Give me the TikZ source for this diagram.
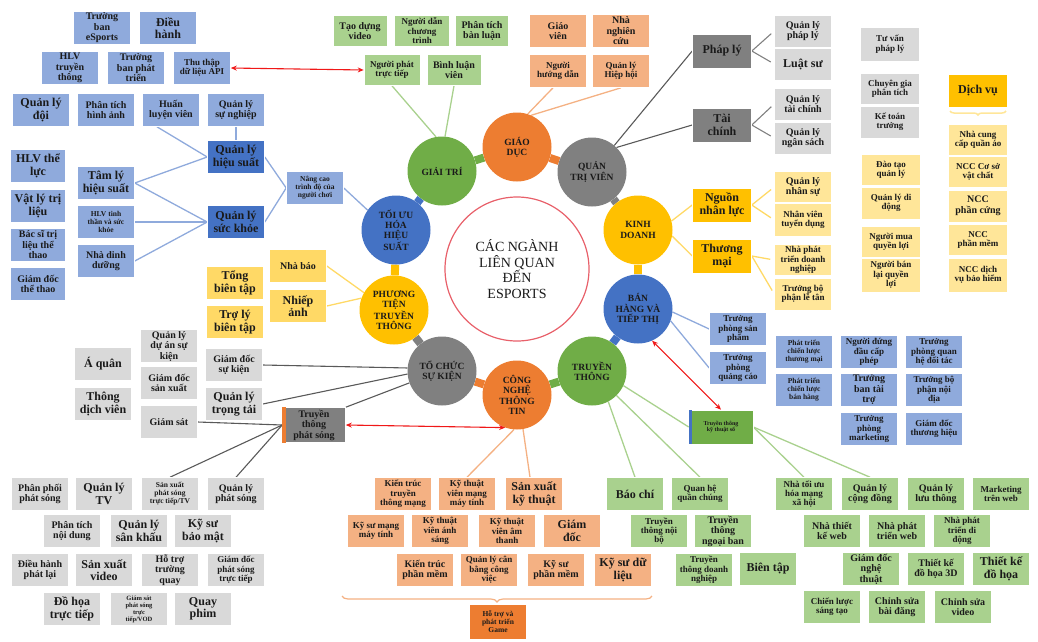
\documentclass[tikz,border=0pt]{standalone}
\usepackage{fontspec}
\setmainfont{Liberation Serif}
\usetikzlibrary{arrows.meta,decorations.pathreplacing,backgrounds}

\definecolor{cBlueL}{HTML}{8FAADC}
\definecolor{cBlue}{HTML}{4472C4}
\definecolor{cGreenL}{HTML}{A9D18E}
\definecolor{cGreen}{HTML}{70AD47}
\definecolor{cOrangeL}{HTML}{F4B183}
\definecolor{cOrange}{HTML}{ED7D31}
\definecolor{cGrayL}{HTML}{D9D9D9}
\definecolor{cGray}{HTML}{808080}
\definecolor{cGrayLine}{HTML}{595959}
\definecolor{cYellowL}{HTML}{FFE699}
\definecolor{cYellowM}{HTML}{FFD966}
\definecolor{cYellow}{HTML}{FFC000}
\definecolor{cPink}{HTML}{E8606A}
\definecolor{cArrow}{HTML}{F01818}
\definecolor{cInk}{HTML}{1A1A1A}

\begin{document}
\begin{tikzpicture}[x=1pt,y=-1pt,
  bx/.style={rectangle, minimum width=57pt, minimum height=33pt, inner sep=0.5pt,
    align=center, text=cInk, draw=white, line width=0.6pt},
  fA/.style={font=\bfseries\fontsize{12}{12.5}\selectfont},
  fB/.style={font=\bfseries\fontsize{10}{10.5}\selectfont},
  fC/.style={font=\bfseries\fontsize{9}{9.4}\selectfont},
  fD/.style={font=\bfseries\fontsize{7.5}{8}\selectfont},
  fE/.style={font=\bfseries\fontsize{6.5}{7}\selectfont},
  bxLB/.style={bx, fill=cBlueL},
  bxDB/.style={bx, fill=cBlue},
  bxLG/.style={bx, fill=cGreenL},
  bxDG/.style={bx, fill=cGreen},
  bxLO/.style={bx, fill=cOrangeL},
  bxDO/.style={bx, fill=cOrange},
  bxLK/.style={bx, fill=cGrayL},
  bxDK/.style={bx, fill=cGray},
  bxLY/.style={bx, fill=cYellowL},
  bxMY/.style={bx, fill=cYellowM},
  bxDY/.style={bx, fill=cYellow},
  ring/.style={circle, minimum size=69pt, inner sep=0pt, align=center, text=cInk,
    font=\bfseries\fontsize{9.5}{10.3}\selectfont},
  lnB/.style={draw=cBlueL, line width=1.3pt},
  lnG/.style={draw=cGreenL, line width=1.3pt},
  lnO/.style={draw=cOrangeL, line width=1.3pt},
  lnY/.style={draw=cYellowM, line width=1.3pt},
  lnK/.style={draw=cGrayLine, line width=1.1pt},
  lnKL/.style={draw=cGray, line width=1.1pt},
  biarrow/.style={draw=cArrow, line width=1.1pt, {Stealth[length=6pt,width=5pt]}-{Stealth[length=6pt,width=5pt]}},
  bar/.style={line width=8pt}
]
\useasboundingbox (0,0) rectangle (1038,641);

% ---------- central hub ----------
\node[circle, minimum size=144pt, draw=cPink, line width=1.2pt, fill=white, align=center,
  text=cInk, font=\fontsize{14}{15.5}\selectfont] (hub) at (517,269)
  {CÁC NGÀNH\\LIÊN QUAN\\ĐẾN\\ESPORTS};

% ---------- ring of sectors ----------
\node[ring, fill=cGreen]  (gt)   at (442,171) {GIẢI TRÍ};
\node[ring, fill=cOrange] (gd)   at (517,147) {GIÁO\\DỤC};
\node[ring, fill=cGray]   (qt)   at (592,172) {QUẢN\\TRỊ VIÊN};
\node[ring, fill=cYellow] (kd)   at (638,230) {KINH\\DOANH};
\node[ring, fill=cBlue]   (bh)   at (638,309) {BÁN\\HÀNG VÀ\\TIẾP THỊ};
\node[ring, fill=cGreen]  (tt)   at (592,371) {TRUYỀN\\THÔNG};
\node[ring, fill=cOrange] (cntt) at (517,395) {CÔNG\\NGHỆ\\THÔNG\\TIN};
\node[ring, fill=cGray]   (tcsk) at (442,371) {TỔ CHỨC\\SỰ KIỆN};
\node[ring, fill=cYellow] (pt)   at (394,310) {PHƯƠNG\\TIỆN\\TRUYỀN\\THÔNG};
\node[ring, fill=cBlue]   (tu)   at (396,230) {TỐI ƯU\\HÓA\\HIỆU\\SUẤT};

% ---------- performance (blue, top left) ----------
\node[bxLB,fB] (tbe)   at (102,28)  {Trường\\ban\\eSports};
\node[bxLB,fA] (dh)    at (168,28)  {Điều\\hành};
\node[bxLB,fB] (hlvtt) at (70,68)   {HLV\\truyền\\thông};
\node[bxLB,fB] (tbpt)  at (136,68)  {Trường\\ban phát\\triển};
\node[bxLB,fC] (api)   at (202,68)  {Thu thập\\dữ liệu API};
\node[bxLB,fA] (qld)   at (41,110)  {Quản lý\\đội};
\node[bxLB,fB] (ptha)  at (106,110) {Phân tích\\hình ảnh};
\node[bxLB,fB] (hlv)   at (171,110) {Huấn\\luyện viên};
\node[bxLB,fB] (qlsn)  at (236,110) {Quản lý\\sự nghiệp};
\node[bxDB,fA] (qlhs)  at (236,157) {Quản lý\\hiệu suất};
\node[bxLB,fA,minimum width=55pt] (hlvtl) at (38,166) {HLV thể\\lực};
\node[bxLB,fA] (tlhs)  at (106,183) {Tâm lý\\hiệu suất};
\node[bxLB,fD] (nc)    at (315,188) {Nâng cao\\trình độ của\\người chơi};
\node[bxLB,fA,minimum width=55pt] (vltl) at (38,206) {Vật lý trị\\liệu};
\node[bxLB,fD] (hlvts) at (106,222) {HLV tinh\\thần và sức\\khỏe};
\node[bxDB,fA] (qlsk)  at (236,222) {Quản lý\\sức khỏe};
\node[bxLB,fB,minimum width=55pt] (bstl) at (38,245) {Bác sĩ trị\\liệu thể\\thao};
\node[bxLB,fB] (ndd)   at (106,261) {Nhà dinh\\dưỡng};
\node[bxLB,fB,minimum width=55pt] (gdtt) at (38,284) {Giám đốc\\thể thao};

% ---------- entertainment (green, top) ----------
\node[bxLG,fB,minimum width=54pt,minimum height=31pt] (tdv)  at (360,31) {Tạo dựng\\video};
\node[bxLG,fC,minimum width=55pt,minimum height=31pt] (ndct) at (422,31) {Người dẫn\\chương\\trình};
\node[bxLG,fB,minimum width=53pt,minimum height=31pt] (ptbl) at (482,31) {Phân tích\\bàn luận};
\node[bxLG,fC,minimum width=56pt,minimum height=31pt] (npt)  at (392,70) {Người phát\\trực tiếp};
\node[bxLG,fB,minimum width=54pt,minimum height=31pt] (blv)  at (454,70) {Bình luận\\viên};

% ---------- education (orange, top) ----------
\node[bxLO,fB] (gv)   at (558,31) {Giáo\\viên};
\node[bxLO,fB] (nnc)  at (621,31) {Nhà\\nghiên\\cứu};
\node[bxLO,fC] (nhd)  at (558,71) {Người\\hướng dẫn};
\node[bxLO,fC] (qlhh) at (621,71) {Quản lý\\Hiệp hội};

% ---------- administration (grey, top right) ----------
\node[bxDK,fA,minimum width=59pt,minimum height=34pt] (phaply)   at (722,51)  {Pháp lý};
\node[bxDK,fA,minimum width=59pt,minimum height=34pt] (taichinh) at (722,125) {Tài\\chính};
\node[bxLK,fB,minimum height=32pt] (qlpl)   at (803,31)  {Quản lý\\pháp lý};
\node[bxLK,fA,minimum height=32pt] (luatsu) at (803,64)  {Luật sư};
\node[bxLK,fB,minimum height=32pt] (qltc)   at (803,104) {Quản lý\\tài chính};
\node[bxLK,fB,minimum height=32pt] (qlns)   at (803,138) {Quản lý\\ngân sách};
\node[bxLK,fC,minimum width=59pt,minimum height=34pt] (tvpl) at (890,44)  {Tư vấn\\pháp lý};
\node[bxLK,fC,minimum width=59pt,minimum height=31pt] (cgpt) at (890,89)  {Chuyên gia\\phân tích};
\node[bxLK,fC,minimum width=59pt,minimum height=32pt] (ktt)  at (890,122) {Kế toán\\trưởng};

% ---------- business (yellow, right) ----------
\node[bxDY,fA,minimum width=59pt] (dichvu) at (978,91) {Dịch vụ};
\node[bxLY,fC,minimum width=59pt,minimum height=31pt] (nccqa) at (978,140) {Nhà cung\\cấp quần áo};
\node[bxLY,fC,minimum width=59pt,minimum height=31pt] (nccvc) at (978,172) {NCC Cơ sở\\vật chất};
\node[bxLY,fB,minimum width=59pt,minimum height=32pt] (ncchc) at (978,206) {NCC\\phần cứng};
\node[bxLY,fC,minimum width=59pt,minimum height=31pt] (nccpm) at (978,240) {NCC\\phần mềm};
\node[bxLY,fC,minimum width=59pt,minimum height=34pt] (nccbh) at (978,275) {NCC dịch\\vụ bảo hiểm};
\node[bxLY,fC,minimum width=59pt,minimum height=31pt] (dtql)  at (891,170) {Đào tạo\\quản lý};
\node[bxLY,fC,minimum width=59pt,minimum height=32pt] (qldd)  at (891,203) {Quản lý di\\động};
\node[bxLY,fC,minimum width=59pt,minimum height=31pt] (nmql)  at (891,242) {Người mua\\quyền lợi};
\node[bxLY,fC,minimum width=59pt,minimum height=34pt] (nblql) at (891,275) {Người bán\\lại quyền\\lợi};
\node[bxDY,fA,minimum width=59pt,minimum height=34pt] (nnl) at (722,205) {Nguồn\\nhân lực};
\node[bxDY,fA,minimum width=59pt,minimum height=34pt] (tm)  at (722,256) {Thương\\mại};
\node[bxLY,fB,minimum height=31pt] (qlnsu) at (803,187) {Quản lý\\nhân sự};
\node[bxLY,fC,minimum height=33pt] (nvtd)  at (803,220) {Nhân viên\\tuyển dụng};
\node[bxLY,fC,minimum height=31pt] (nptdn) at (803,260) {Nhà phát\\triển doanh\\nghiệp};
\node[bxLY,fC,minimum height=32pt] (tbplt) at (803,294) {Trưởng bộ\\phận lễ tân};

% ---------- sales and marketing (blue, right) ----------
\node[bxLB,fC] (tpsp)  at (738,329) {Trưởng\\phòng sản\\phẩm};
\node[bxLB,fC] (tpqc)  at (738,368) {Trưởng\\phòng\\quảng cáo};
\node[bxLB,fD] (ptclt) at (804,352) {Phát triển\\chiến lược\\thương mại};
\node[bxLB,fD] (ptclb) at (804,390) {Phát triển\\chiến lược\\bán hàng};
\node[bxLB,fC] (nddcp) at (869,352) {Người đứng\\đầu cấp\\phép};
\node[bxLB,fB] (tbtt)  at (869,390) {Trưởng\\ban tài\\trợ};
\node[bxLB,fC] (tpm)   at (869,429) {Trưởng\\phòng\\marketing};
\node[bxLB,fC] (tpqh)  at (934,352) {Trưởng\\phòng quan\\hệ đối tác};
\node[bxLB,fC] (tbpnd) at (934,390) {Trưởng bộ\\phận nội\\địa};
\node[bxLB,fC] (gdth)  at (934,429) {Giám đốc\\thương hiệu};

% ---------- communications (green, bottom right) ----------
\node[bxDG,font=\bfseries\fontsize{6}{6.6}\selectfont,minimum width=64pt,minimum height=34pt] (ttkts) at (721,427) {Truyền thông\\kỹ thuật số};
\fill[cBlue] (ttkts.north west) rectangle ([xshift=3pt]ttkts.south west);
\node[bxLG,fA] (baochi)  at (635,494) {Báo chí};
\node[bxLG,fC] (qhqc)    at (700,494) {Quan hệ\\quần chúng};
\node[bxLG,fC] (ttnb)    at (659,531) {Truyền\\thông nội\\bộ};
\node[bxLG,fB] (ttnb2)   at (723,531) {Truyền\\thông\\ngoại ban};
\node[bxLG,fC] (ttdn)    at (704,570) {Truyền\\thông doanh\\nghiệp};
\node[bxLG,fA] (bientap) at (768,569) {Biên tập};
\node[bxLG,fC] (ntu)     at (804,494) {Nhà tối ưu\\hóa mạng\\xã hội};
\node[bxLG,fB] (qlcd)    at (870,494) {Quản lý\\cộng đồng};
\node[bxLG,fB] (qllt)    at (936,494) {Quản lý\\lưu thông};
\node[bxLG,fC] (mktw)    at (1001,494) {Marketing\\trên web};
\node[bxLG,fB] (nhtkw)   at (832,531) {Nhà thiết\\kế web};
\node[bxLG,fB] (nptw)    at (897,531) {Nhà phát\\triển web};
\node[bxLG,fC] (nptdd)   at (962,531) {Nhà phát\\triển di\\động};
\node[bxLG,fB] (gdnt)    at (871,569) {Giám đốc\\nghệ\\thuật};
\node[bxLG,fB] (tk3d)    at (936,569) {Thiết kế\\đồ họa 3D};
\node[bxLG,fA] (tkdh)    at (1001,569) {Thiết kế\\đồ họa};
\node[bxLG,fC] (clst)    at (832,607) {Chiến lược\\sáng tạo};
\node[bxLG,fB] (csbd)    at (897,607) {Chỉnh sửa\\bài đăng};
\node[bxLG,fB] (csv)     at (963,607) {Chỉnh sửa\\video};

% ---------- information technology (orange, bottom) ----------
\node[bxLO,fC] (ktttm)  at (403,494) {Kiến trúc\\truyền\\thông mạng};
\node[bxLO,fC] (ktvmmt) at (467,494) {Kỹ thuật\\viên mạng\\máy tính};
\node[bxLO,fA] (sxkt)   at (534,494) {Sản xuất\\kỹ thuật};
\node[bxLO,fC] (ksmmt)  at (376,531) {Kỹ sư mạng\\máy tính};
\node[bxLO,fC] (ktvas)  at (440,531) {Kỹ thuật\\viên ánh\\sáng};
\node[bxLO,fC] (ktvat)  at (507,531) {Kỹ thuật\\viên âm\\thanh};
\node[bxLO,fA] (gdit)   at (572,531) {Giám\\đốc};
\node[bxLO,fB] (ktpm)   at (425,570) {Kiến trúc\\phần mềm};
\node[bxLO,fC] (qlcb)   at (489,570) {Quản lý cân\\bằng công\\việc};
\node[bxLO,fB] (kspm)   at (556,570) {Kỹ sư\\phần mềm};
\node[bxLO,fA] (ksdl)   at (623,570) {Kỹ sư dữ\\liệu};
\node[bxDO,fD,minimum height=35pt] (htpt) at (498,622) {Hỗ trợ và\\phát triển\\Game};
\draw[decorate, decoration={brace, amplitude=6pt}, cOrangeL, line width=1.2pt]
  (652,596) -- (342,596);

% ---------- media (yellow, left) ----------
\node[bxMY,fB] (nhabao)   at (298,266) {Nhà báo};
\node[bxMY,fA] (nhiepanh) at (298,306) {Nhiếp\\ảnh};
\node[bxMY,fA] (tbt)      at (235,283) {Tổng\\biên tập};
\node[bxMY,fA] (tlbt)     at (235,322) {Trợ lý\\biên tập};

% ---------- events (grey, left) ----------
\node[bxLK,fB] (qldask)  at (169,346) {Quản lý\\dự án sự\\kiện};
\node[bxLK,fB] (gdsx)    at (169,383) {Giám đốc\\sản xuất};
\node[bxLK,fB] (giamsat) at (169,422) {Giám sát};
\node[bxLK,fB] (gdsk)    at (234,365) {Giám đốc\\sự kiện};
\node[bxLK,fA] (qltt)    at (234,404) {Quản lý\\trọng tải};
\node[bxLK,fA] (aquan)   at (103,364) {Á quân};
\node[bxLK,fA] (tdvien)  at (103,404) {Thông\\dịch viên};
\node[bxDK,fB,minimum width=63pt,minimum height=35pt] (ttps) at (314,425) {Truyền\\thông\\phát sóng};
\fill[cOrange] (ttps.north west) rectangle ([xshift=4pt]ttps.south west);

\node[bxLK,fB] (ppps)   at (40,494)  {Phân phối\\phát sóng};
\node[bxLK,fA] (qltv)   at (104,494) {Quản lý\\TV};
\node[bxLK,fD] (sxps)   at (170,494) {Sản xuất\\phát sóng\\trực tiếp/TV};
\node[bxLK,fB] (qlps)   at (236,494) {Quản lý\\phát sóng};
\node[bxLK,fB] (ptnd)   at (72,531)  {Phân tích\\nội dung};
\node[bxLK,fA] (qlsk2)  at (139,531) {Quản lý\\sân khấu};
\node[bxLK,fA] (ksbm)   at (203,531) {Kỹ sư\\bảo mật};
\node[bxLK,fB] (dhpl)   at (40,570)  {Điều hành\\phát lại};
\node[bxLK,fA] (sxv)    at (104,570) {Sản xuất\\video};
\node[bxLK,fB] (httq)   at (170,570) {Hỗ trợ\\trường\\quay};
\node[bxLK,fC] (gdpstt) at (236,570) {Giám đốc\\phát sóng\\trực tiếp};
\node[bxLK,fA] (dhtt)   at (72,609)  {Đồ họa\\trực tiếp};
\node[bxLK,fE] (gspstt) at (139,609) {Giám sát\\phát sóng\\trực\\tiếp/VOD};
\node[bxLK,fA] (qp)     at (203,609) {Quay\\phim};

% ---------- brace under the services heading ----------
\draw[decorate, decoration={brace, amplitude=4pt}, cYellowL, line width=1.5pt]
  (1006,111) -- (950,111);

% ---------- connectors ----------
\begin{scope}[on background layer]
  % ring links
  \foreach \a/\b/\c in {gt/gd/cGreen, gd/qt/cOrange, qt/kd/cGray, kd/bh/cYellow,
      bh/tt/cBlue, tt/cntt/cGreen, cntt/tcsk/cOrange, tcsk/pt/cGray,
      pt/tu/cYellow, tu/gt/cBlue}
    \draw[bar, \c] (\a) -- (\b);

  % performance
  \draw[lnB] (qlsn.south) -- (qlhs.north);
  \draw[lnB] (qlhs.west) -- ([xshift=-14pt]hlv.south);
  \draw[lnB] (qlhs.west) -- (tlhs.east);
  \draw[lnB] (tlhs.east) -- (qlsk.west);
  \draw[lnB] (hlvts.east) -- (qlsk.west);
  \draw[lnB] (ndd.east) -- (qlsk.west);
  \draw[lnB] (qlhs.east) -- (nc.west);
  \draw[lnB] (qlsk.east) -- (nc.west);
  \draw[lnB] (nc.east) -- (tu.145);

  % entertainment and education
  \draw[lnG] (gt.100) -- (npt.south);
  \draw[lnG] (gt.85) -- (blv.south);
  \draw[lnO] (gd.72) -- ([xshift=-5pt]nhd.south);
  \draw[lnO] (gd.66) -- (qlhh.south);

  % administration
  \draw[lnK] (qt.50) -- (phaply.west);
  \draw[lnK] (qt.45) -- (taichinh.west);
  \draw[lnKL, shorten >=4pt] (phaply.east) -- (qlpl.west);
  \draw[lnKL, shorten >=4pt] (phaply.east) -- (luatsu.west);
  \draw[lnKL, shorten >=4pt] (taichinh.east) -- (qltc.west);
  \draw[lnKL, shorten >=4pt] (taichinh.east) -- (qlns.west);

  % business
  \draw[lnY] (kd.15) -- (nnl.west);
  \draw[lnY] (kd.-10) -- (tm.west);
  \draw[lnY, shorten >=4pt] (nnl.east) -- (qlnsu.west);
  \draw[lnY, shorten >=4pt] (nnl.east) -- (nvtd.west);
  \draw[lnY, shorten >=4pt] (tm.east) -- (nptdn.west);
  \draw[lnY, shorten >=4pt] (tm.east) -- (tbplt.west);

  % sales and marketing
  \draw[lnB] (bh.-5) -- (tpsp.west);
  \draw[lnB] (bh.-20) -- (tpqc.west);

  % communications
  \draw[lnG] (tt.-62) -- (baochi.north);
  \draw[lnG] (tt.-45) -- (qhqc.north);
  \draw[lnG] (tt.-25) -- (ttkts.west);
  \draw[lnG] (ttkts.east) -- (ntu.north);
  \draw[lnG] (ttkts.east) -- (qlcd.north);

  % information technology
  \draw[lnO] (cntt.-95) -- (ktvmmt.north);
  \draw[lnO] (cntt.-80) -- ([xshift=-4pt]sxkt.north);

  % media
  \draw[lnY] (pt.150) -- (nhabao.east);
  \draw[lnY] (pt.160) -- (nhiepanh.east);

  % events
  \draw[lnK] (tcsk.175) -- (gdsk.east);
  \draw[lnK] (tcsk.185) -- (qltt.east);
  \draw[lnK] (tcsk.200) -- (ttps.north east);
  \draw[lnK] (giamsat.east) -- (ttps.west);
  \draw[lnK] (ttps.west) -- (sxps.north);
  \draw[lnK] (ttps.west) -- (qlps.north);
\end{scope}

% ---------- data exchange arrows ----------
\draw[biarrow] (api.east) -- (npt.west);
\draw[biarrow] (ttps.east) -- (cntt.250);
\draw[biarrow] (ttkts.north) -- (bh.294);

\end{tikzpicture}
\end{document}
